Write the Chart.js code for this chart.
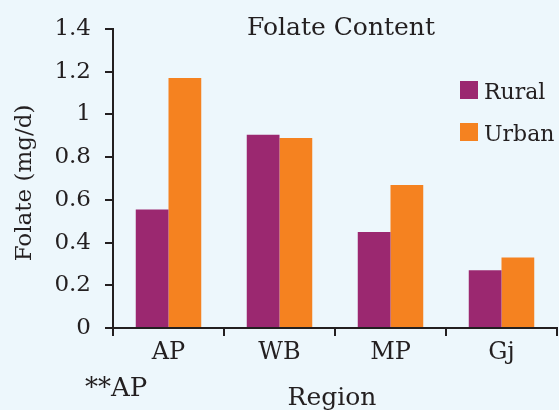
<!DOCTYPE html>
<html>
<head>
<meta charset="utf-8">
<script src="https://cdn.jsdelivr.net/npm/chart.js@4"></script>
<style>
  html, body { margin: 0; padding: 0; background: #edf7fc; }
  #wrap { width: 559px; height: 410px; position: relative; }
</style>
</head>
<body>
<div id="wrap"><canvas id="chart" width="559" height="410"></canvas></div>
<script>
// ---- data ----
const regions = ['AP', 'WB', 'MP', 'Gj'];
const rural = [0.555, 0.905, 0.45, 0.27];
const urban = [1.17, 0.89, 0.67, 0.33];
const yTicks = [0, 0.2, 0.4, 0.6, 0.8, 1, 1.2, 1.4];

const FONT = '"DejaVu Serif", "Liberation Serif", serif';
const INK = '#231f20';
const PURPLE = '#9b2870';
const ORANGE = '#f58220';

// plot box in the reference
const PLOT = { left: 113, right: 557, top: 29, bottom: 328 };

// extra text: title, axis titles, legend, footnote
const decorations = {
  id: 'decorations',
  afterDraw(chart) {
    const ctx = chart.ctx;
    ctx.save();
    ctx.fillStyle = INK;
    ctx.textBaseline = 'alphabetic';

    ctx.font = '25px ' + FONT;
    ctx.textAlign = 'center';
    ctx.fillText('Folate Content', 341, 35);

    ctx.fillText('Region', 332, 405);

    ctx.font = '26px ' + FONT;
    ctx.textAlign = 'left';
    ctx.fillText('**AP', 85, 396);

    ctx.save();
    ctx.font = '23px ' + FONT;
    ctx.translate(31, 183);
    ctx.rotate(-Math.PI / 2);
    ctx.textAlign = 'center';
    ctx.fillText('Folate (mg/d)', 0, 0);
    ctx.restore();

    // legend
    ctx.font = '22px ' + FONT;
    chart.data.datasets.forEach((ds, i) => {
      const y = 81 + i * 42;
      ctx.fillStyle = ds.backgroundColor;
      ctx.fillRect(460, y, 18, 18);
      ctx.fillStyle = INK;
      ctx.textAlign = 'left';
      ctx.fillText(ds.label, 484, y + 18);
    });
    ctx.restore();
  }
};

new Chart(document.getElementById('chart'), {
  type: 'bar',
  data: {
    labels: regions,
    datasets: [
      { label: 'Rural', data: rural, backgroundColor: PURPLE },
      { label: 'Urban', data: urban, backgroundColor: ORANGE }
    ]
  },
  options: {
    responsive: false,
    animation: false,
    layout: { padding: { left: 0, right: 559 - PLOT.right, top: PLOT.top, bottom: 0 } },
    datasets: { bar: { categoryPercentage: 0.59, barPercentage: 1.0 } },
    plugins: { legend: { display: false }, title: { display: false }, tooltip: { enabled: false } },
    scales: {
      x: {
        grid: { offset: true, drawOnChartArea: false, color: INK, lineWidth: 2, tickLength: 8 },
        border: { color: INK, width: 2 },
        ticks: { color: INK, font: { family: FONT, size: 24 }, padding: 2 },
        afterFit(scale) { scale.height = 410 - PLOT.bottom; }
      },
      y: {
        min: 0,
        max: 1.4,
        afterBuildTicks(scale) { scale.ticks = yTicks.map(v => ({ value: v })); },
        grid: { drawOnChartArea: false, color: INK, lineWidth: 2, tickLength: 8 },
        border: { color: INK, width: 2 },
        ticks: {
          color: INK,
          font: { family: FONT, size: 23 },
          padding: 14,
          callback: v => String(Math.round(v * 10) / 10)
        },
        afterFit(scale) { scale.width = PLOT.left; }
      }
    }
  },
  plugins: [decorations]
});
</script>
</body>
</html>
